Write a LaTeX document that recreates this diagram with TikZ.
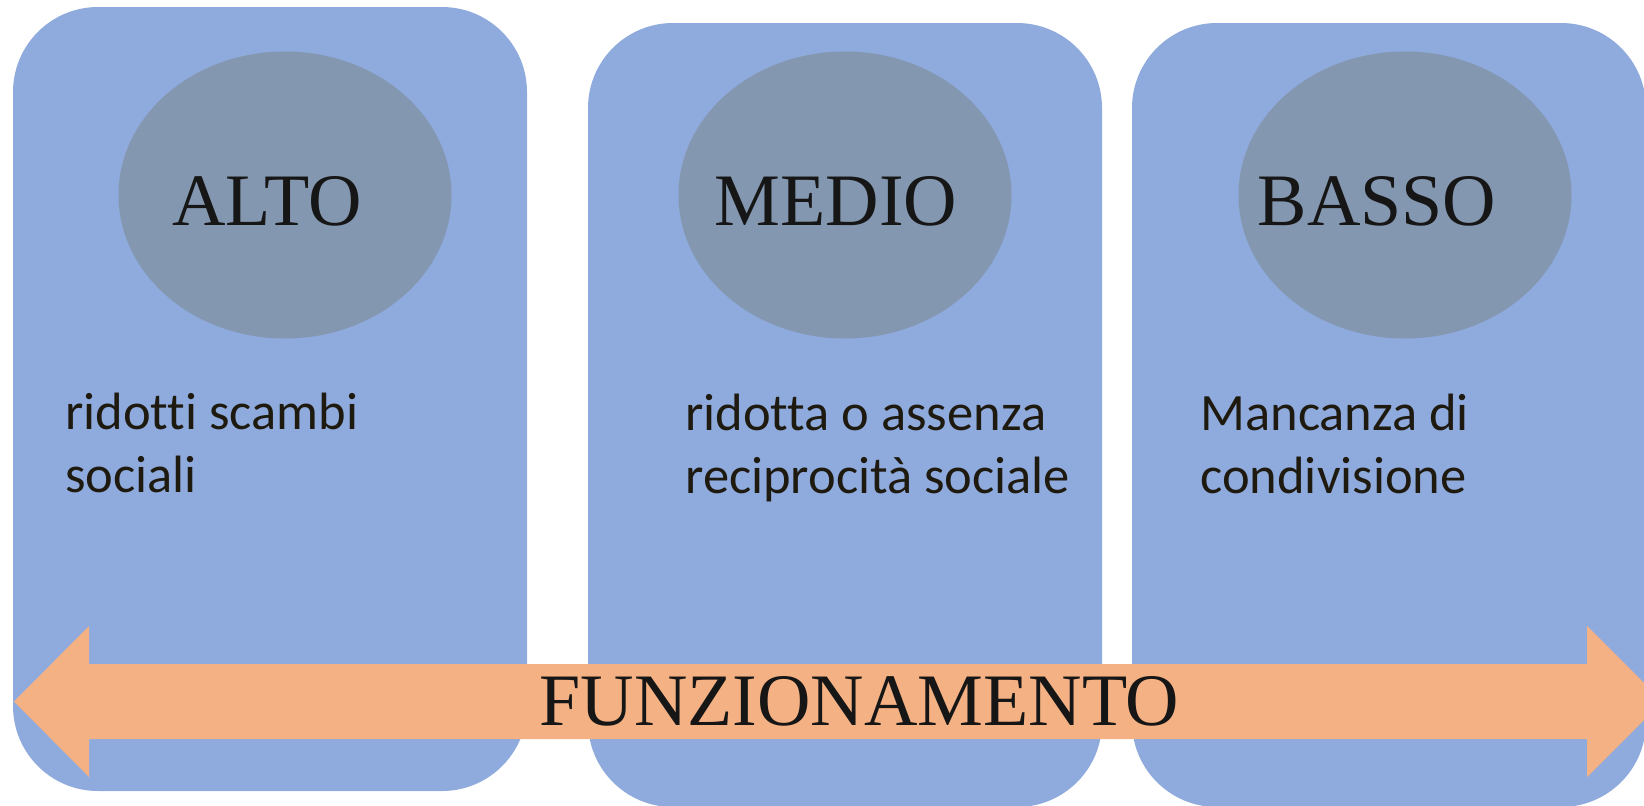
\documentclass[tikz,border=0pt]{standalone}
\usepackage{fontspec}
\setmainfont{Liberation Serif}
\newfontfamily\bodyfont[Ligatures=NoCommon]{Carlito}
\usetikzlibrary{shapes.geometric}
\definecolor{boxblue}{HTML}{8FAADC}
\definecolor{ellgray}{HTML}{8497B0}
\definecolor{arroworange}{HTML}{F4B183}
\definecolor{labeltext}{HTML}{161616}
\definecolor{bodytext}{HTML}{1E1A10}
\begin{document}
\begin{tikzpicture}[x=0.5pt,y=-0.5pt,
  panel/.style={fill=boxblue, draw=none, rounded corners=42.5pt, minimum width=257pt, minimum height=392pt, inner sep=0pt},
  level/.style={ellipse, fill=ellgray, draw=none, minimum width=166.5pt, minimum height=143.5pt, inner sep=0pt},
  lbl/.style={anchor=base, inner sep=0pt, font=\fontsize{37}{44}\selectfont, text=labeltext},
  desc/.style={anchor=base west, align=left, inner sep=0pt, font=\bodyfont\fontsize{26.25}{31.5}\selectfont, text=bodytext},
  band/.style={fill=arroworange, draw=none}
]
\useasboundingbox (0,0) rectangle (1644,805);
\clip (0,0) rectangle (1644,805);
% panels
\node[panel] (p1) at (270,399) {};
\node[panel] (p2) at (845,415) {};
\node[panel] (p3) at (1389,415) {};
% ellipses
\node[level] (e1) at (285,195) {};
\node[level] (e2) at (845,195) {};
\node[level] (e3) at (1405,195) {};
\node[lbl] (t1) at (267,225.5) {ALTO};
\node[lbl] (t2) at (836,225.5) {MEDIO};
\node[lbl] (t3) at (1377,225.5) {BASSO};
% descriptions (anchor = baseline of the last line)
\node[desc] (d1) at (65,492) {ridotti scambi\\sociali};
\node[desc] (d2) at (685,493) {ridotta o assenza\\reciprocità sociale};
\node[desc] (d3) at (1200,493) {Mancanza di\\condivisione};
% double arrow
\fill[band] (14,701.5) -- (89,626) -- (89,664) -- (1587,664) -- (1587,626)
  -- (1662.5,701.5) -- (1587,777) -- (1587,739) -- (89,739) -- (89,777) -- cycle;
\node[lbl] (f) at (859.5,725) {FUNZIONAMENTO};
\end{tikzpicture}
\end{document}
